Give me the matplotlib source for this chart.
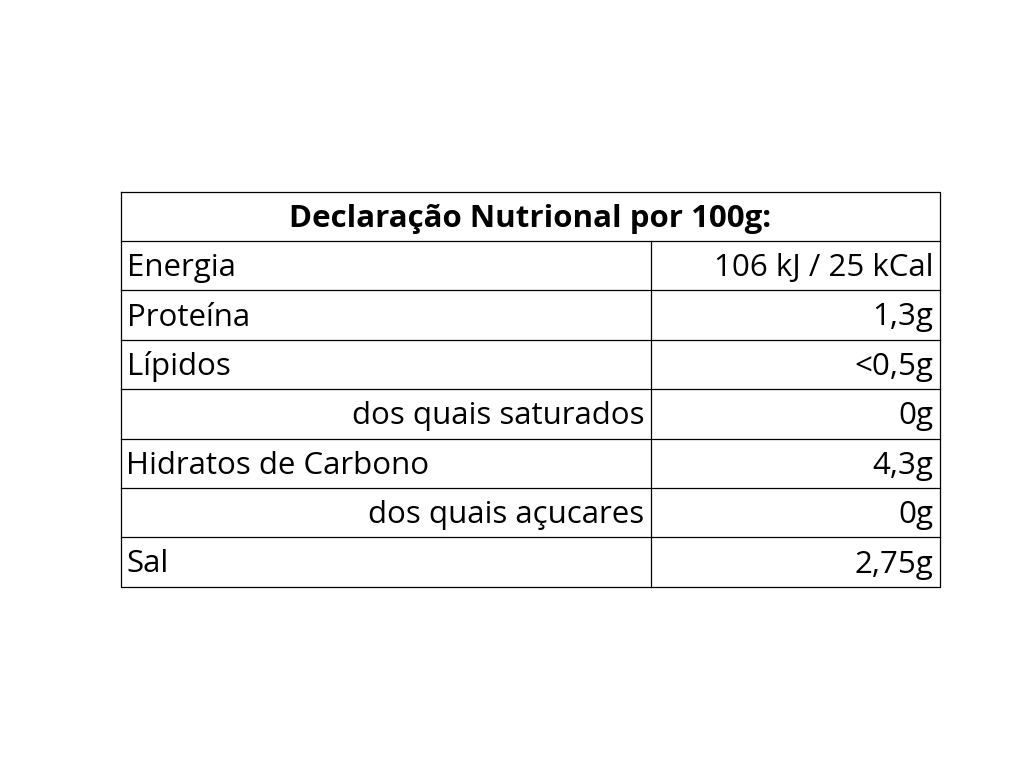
import matplotlib.pyplot as plt

title = "Declaração Nutrional por 100g:"
nutrients = ["Energia", "Proteína", "Lípidos", "dos quais saturados",
             "Hidratos de Carbono", "dos quais açucares", "Sal"]
amounts = ["106 kJ / 25 kCal", "1,3g", "<0,5g", "0g", "4,3g", "0g", "2,75g"]
indented = [False, False, False, True, False, True, False]

plt.rcParams['font.family'] = ['Open Sans', 'DejaVu Sans']

fig = plt.figure(figsize=(10.31, 7.7), dpi=100)
ax = fig.add_axes([0, 0, 1, 1])
ax.set_xlim(0, 1031)
ax.set_ylim(770, 0)
ax.axis('off')

left, right, split = 120.5, 939.5, 650.5
top, row_h = 191.5, 49.4
n = len(nutrients) + 1
bottom = top + n * row_h

# grid
ax.plot([left, right, right, left, left], [top, top, bottom, bottom, top], color='black', lw=0.9)
for i in range(1, n):
    y = top + i * row_h
    ax.plot([left, right], [y, y], color='black', lw=0.9)
ax.plot([split, split], [top + row_h, bottom], color='black', lw=0.9)

fs = 22.5
dy = 2.5
ax.text((left + right) / 2, top + row_h / 2 + dy, title, ha='center', va='center',
        fontsize=fs, fontweight='bold')
for i, (name, amt, ind) in enumerate(zip(nutrients, amounts, indented)):
    yc = top + (i + 1.5) * row_h + dy
    if ind:
        ax.text(split - 6, yc, name, ha='right', va='center', fontsize=fs)
    else:
        ax.text(left + 6, yc, name, ha='left', va='center', fontsize=fs)
    ax.text(right - 6, yc, amt, ha='right', va='center', fontsize=fs)

fig.savefig('out.png', dpi=100)
